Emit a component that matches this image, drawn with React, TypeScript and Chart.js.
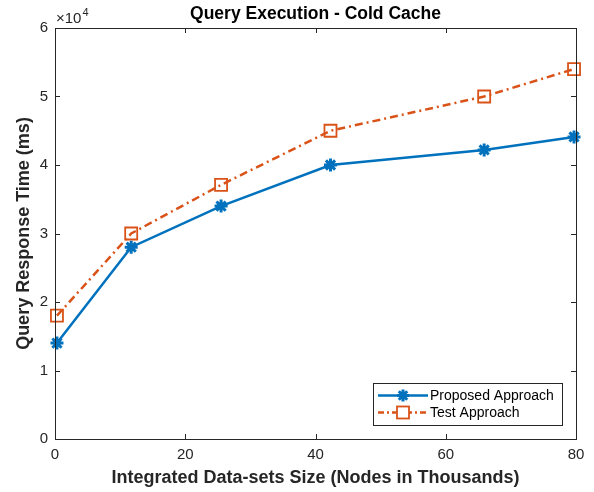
import React, { useEffect, useRef } from "react";
import { Chart, registerables } from "chart.js";

Chart.register(...registerables);

const chartTitle = "Query Execution - Cold Cache";
const xAxisTitle = "Integrated Data-sets Size (Nodes in Thousands)";
const yAxisTitle = "Query Response Time (ms)";
const seriesNames = ["Proposed Approach", "Test Approach"];
const xValues = [0.3, 11.7, 25.5, 42.3, 65.9, 79.7];
const proposedValues = [14000, 28000, 34000, 40000, 42200, 44100];
const testValues = [18000, 30000, 37100, 45000, 50000, 54000];
const xTicks = [0, 20, 40, 60, 80];
const yTicks = [0, 10000, 20000, 30000, 40000, 50000, 60000];
const yExponent = 4;

const BLUE = "#0072BD";
const ORANGE = "#D95319";
const AXIS = "#262626";
const FONT = "'Liberation Sans', Arial, Helvetica, sans-serif";

function drawStar(ctx: CanvasRenderingContext2D, x: number, y: number, r: number) {
  ctx.beginPath();
  for (let i = 0; i < 4; i++) {
    const a = (Math.PI / 4) * i;
    ctx.moveTo(x + Math.cos(a) * r, y + Math.sin(a) * r);
    ctx.lineTo(x - Math.cos(a) * r, y - Math.sin(a) * r);
  }
  ctx.stroke();
}

const decorPlugin = {
  id: "matlabDecor",
  afterDraw(chart: any) {
    const { ctx, chartArea } = chart;
    const { left, right, top, bottom } = chartArea;
    const xs = chart.scales.x;
    const ys = chart.scales.y;
    ctx.save();
    // box
    ctx.strokeStyle = AXIS;
    ctx.lineWidth = 1;
    ctx.strokeRect(Math.round(left) + 0.5, Math.round(top) + 0.5, Math.round(right - left), Math.round(bottom - top));
    // inward ticks
    const tl = 5;
    ctx.beginPath();
    xTicks.forEach((v) => {
      const px = Math.round(xs.getPixelForValue(v)) + 0.5;
      ctx.moveTo(px, bottom);
      ctx.lineTo(px, bottom - tl);
      ctx.moveTo(px, top);
      ctx.lineTo(px, top + tl);
    });
    yTicks.forEach((v) => {
      const py = Math.round(ys.getPixelForValue(v)) + 0.5;
      ctx.moveTo(left, py);
      ctx.lineTo(left + tl, py);
      ctx.moveTo(right, py);
      ctx.lineTo(right - tl, py);
    });
    ctx.stroke();

    // exponent label
    ctx.fillStyle = AXIS;
    ctx.textBaseline = "alphabetic";
    ctx.textAlign = "left";
    ctx.font = `15px ${FONT}`;
    const ex = left + 1;
    const ey = top - 5;
    ctx.fillText("\u00d710", ex, ey);
    const w = ctx.measureText("\u00d710").width;
    ctx.font = `11px ${FONT}`;
    ctx.fillText(String(yExponent), ex + w + 1, ey - 7);

    // title
    ctx.font = `bold 17.5px ${FONT}`;
    ctx.textAlign = "center";
    ctx.fillStyle = "#000";
    ctx.fillText(chartTitle, (left + right) / 2, top - 9);

    // legend
    const lx = 373, ly = 383, lw = 189, lh = 42;
    ctx.fillStyle = "#fff";
    ctx.fillRect(lx, ly, lw, lh);
    ctx.strokeStyle = AXIS;
    ctx.lineWidth = 1;
    ctx.strokeRect(lx + 0.5, ly + 0.5, lw, lh);
    const rows = [
      { y: ly + 12.5, color: BLUE, dash: [] as number[], marker: "star" },
      { y: ly + 29.5, color: ORANGE, dash: [6, 3, 2, 3], marker: "rect" },
    ];
    rows.forEach((r, i) => {
      ctx.strokeStyle = r.color;
      ctx.lineWidth = 2.5;
      ctx.setLineDash(r.dash);
      ctx.beginPath();
      ctx.moveTo(lx + 5, r.y);
      ctx.lineTo(lx + 55, r.y);
      ctx.stroke();
      ctx.setLineDash([]);
      const cx = lx + 30;
      if (r.marker === "star") {
        ctx.lineWidth = 3;
        drawStar(ctx, cx, r.y, 6);
      } else {
        ctx.fillStyle = "#fff";
        ctx.fillRect(cx - 6, r.y - 6, 12, 12);
        ctx.lineWidth = 1.8;
        ctx.strokeRect(cx - 6, r.y - 6, 12, 12);
      }
      ctx.fillStyle = "#000";
      ctx.font = `14px ${FONT}`;
      ctx.textAlign = "left";
      ctx.textBaseline = "middle";
      ctx.fillText(seriesNames[i], lx + 57, r.y + 0.5);
    });
    ctx.restore();
  },
};

export default function App() {
  const ref = useRef<HTMLCanvasElement | null>(null);
  useEffect(() => {
    document.body.style.margin = "0";
    const canvas = ref.current;
    if (!canvas) return;
    Chart.defaults.font.family = FONT;
    const chart = new Chart(canvas, {
      type: "line",
      data: {
        datasets: [
          {
            label: seriesNames[0],
            data: xValues.map((x, i) => ({ x, y: proposedValues[i] })),
            borderColor: BLUE,
            backgroundColor: BLUE,
            borderWidth: 2.5,
            pointStyle: "star",
            pointRadius: 6.5,
            pointBorderWidth: 3,
            pointBorderColor: BLUE,
            tension: 0,
            clip: false as any,
          },
          {
            label: seriesNames[1],
            data: xValues.map((x, i) => ({ x, y: testValues[i] })),
            borderColor: ORANGE,
            backgroundColor: "#ffffff",
            borderWidth: 2.5,
            borderDash: [8, 4, 2, 4],
            pointStyle: "rect",
            pointRadius: 8.5,
            pointBorderWidth: 1.8,
            pointBorderColor: ORANGE,
            pointBackgroundColor: "rgba(255,255,255,0)",
            tension: 0,
            clip: false as any,
          },
        ],
      },
      options: {
        responsive: false,
        animation: false,
        layout: { padding: { top: 28, right: 18, left: 0, bottom: 0 } },
        plugins: {
          legend: { display: false },
          title: { display: false },
          tooltip: { enabled: false },
        },
        scales: {
          x: {
            type: "linear",
            min: 0,
            max: 80,
            afterBuildTicks: (s: any) => {
              s.ticks = xTicks.map((v) => ({ value: v }));
            },
            afterFit: (s: any) => {
              s.height = 53;
            },
            grid: { display: false, drawTicks: false },
            border: { display: false },
            ticks: {
              color: AXIS,
              font: { size: 15 },
              padding: 7,
              maxRotation: 0,
              autoSkip: false,
            },
            title: {
              display: true,
              text: xAxisTitle,
              color: AXIS,
              font: { size: 18, weight: "bold" },
              padding: { top: 0, bottom: 3 },
            },
          },
          y: {
            type: "linear",
            min: 0,
            max: 60000,
            afterBuildTicks: (s: any) => {
              s.ticks = yTicks.map((v) => ({ value: v }));
            },
            afterFit: (s: any) => {
              s.width = 55;
            },
            grid: { display: false, drawTicks: false },
            border: { display: false },
            ticks: {
              color: AXIS,
              font: { size: 15 },
              padding: 7,
              autoSkip: false,
              callback: (v: any) => String(Number(v) / Math.pow(10, yExponent)),
            },
            title: {
              display: true,
              text: yAxisTitle,
              color: AXIS,
              font: { size: 18, weight: "bold" },
              padding: { top: 13, bottom: 0 },
            },
          },
        },
      },
      plugins: [decorPlugin],
    });
    return () => chart.destroy();
  }, []);
  return (
    <div style={{ position: "absolute", left: 0, top: 0, width: 594, height: 492, background: "#fff" }}>
      <canvas ref={ref} width={594} height={492} />
    </div>
  );
}
